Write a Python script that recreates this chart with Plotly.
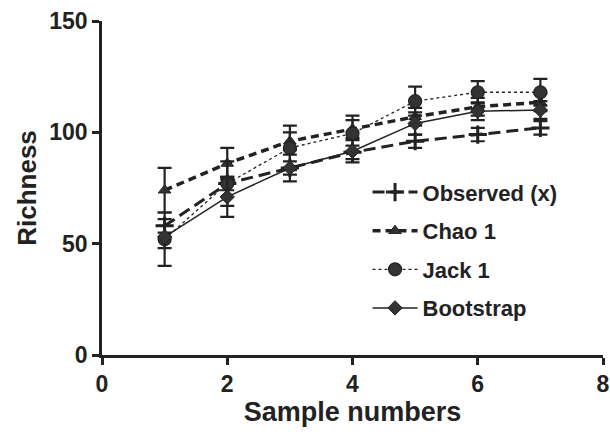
import plotly.graph_objects as go

samples = [1, 2, 3, 4, 5, 6, 7]
observed = [58, 77, 84, 91, 96, 99, 102]
observed_err = [3, 3, 3, 3, 3, 3, 3]
chao1 = [74, 86, 96, 101.5, 107, 111.5, 113.5]
chao1_err = [10, 7, 4, 4, 4, 4, 4]
jack1 = [52, 77, 93, 99.5, 114, 118, 118]
jack1_err = [12, 10, 10, 8, 6.5, 5, 6]
bootstrap = [53, 71, 84, 91.5, 104, 109.5, 110]
bootstrap_err = [5, 9, 6, 5, 5, 4, 4]

x_ticks = [0, 2, 4, 6, 8]
y_ticks = [0, 50, 100, 150]

INK = "#222222"
FILL = "#333333"
FAM = "Liberation Sans, Arial, sans-serif"

series = [
    ("Observed (x)", observed, observed_err, dict(dash="12px,6px", width=3), dict(symbol="cross-thin", size=13, line=dict(width=3, color=INK))),
    ("Chao 1", chao1, chao1_err, dict(dash="8px,5px", width=3.5), dict(symbol="triangle-up", size=11, color=FILL, line=dict(width=1, color=INK))),
    ("Jack 1", jack1, jack1_err, dict(dash="dot", width=1.3), dict(symbol="circle", size=13, color=FILL, line=dict(width=1.2, color=INK))),
    ("Bootstrap", bootstrap, bootstrap_err, dict(dash="solid", width=1.5), dict(symbol="diamond", size=11, color=FILL, line=dict(width=1, color=INK))),
]

fig = go.Figure()
for i, (name, ys, errs, line, marker) in enumerate(series):
    fig.add_trace(go.Scatter(
        x=samples, y=ys, name=name, mode="lines+markers",
        line=dict(color=INK, **line),
        marker=marker,
        error_y=dict(type="data", array=errs, visible=True, color=INK, thickness=2.2, width=7),
        legendgroup=f"g{i}",
    ))

tick_font = dict(family=FAM, size=23, color=INK, weight="bold")
fig.update_layout(
    width=610, height=435,
    template="none",
    paper_bgcolor="white", plot_bgcolor="white",
    margin=dict(l=102, r=7, t=21, b=80, autoexpand=False),
    font=dict(family=FAM, color=INK),
    showlegend=True,
    legend=dict(
        x=0.53, y=0.55, xanchor="left", yanchor="top",
        font=dict(size=22, family=FAM, color=INK, weight="bold"),
        tracegroupgap=7, bgcolor="rgba(0,0,0,0)", traceorder="grouped",
        itemwidth=45,
    ),
    xaxis=dict(
        range=[0, 8], tickvals=x_ticks, ticktext=[str(v) for v in x_ticks],
        showgrid=False, zeroline=False, showline=True, linecolor=INK, linewidth=2.5,
        ticks="outside", ticklen=7, tickwidth=2.5, tickcolor=INK,
        tickfont=tick_font,
        title=dict(text="<b>Sample numbers</b>", font=dict(size=27, family=FAM, color=INK), standoff=5),
        automargin=False,
    ),
    yaxis=dict(
        range=[0, 150], tickvals=y_ticks, ticktext=[str(v) for v in y_ticks],
        showgrid=False, zeroline=False, showline=True, linecolor=INK, linewidth=2.5,
        ticks="outside", ticklen=7, tickwidth=2.5, tickcolor=INK,
        tickfont=tick_font,
        title=dict(text="<b>Richness</b>", font=dict(size=26, family=FAM, color=INK), standoff=6),
        automargin=False,
    ),
)

fig.write_html("out.html", config={"displayModeBar": False},
               post_script="document.body.style.margin='0';")
